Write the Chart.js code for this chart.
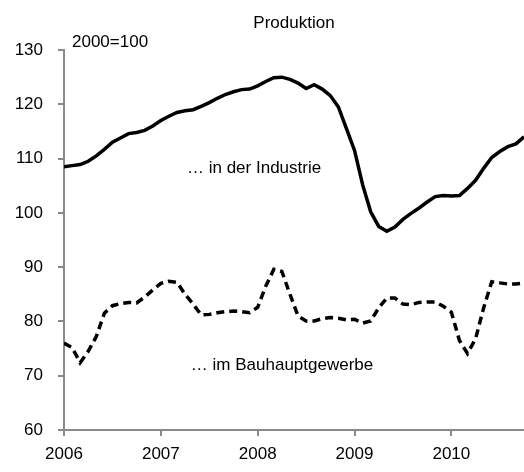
<!DOCTYPE html>
<html>
<head>
<meta charset="utf-8">
<script src="https://cdn.jsdelivr.net/npm/chart.js@4"></script>
<style>
  body { margin: 0; background: #fff; }
  #wrap { width: 524px; height: 472px; }
</style>
</head>
<body>
<div id="wrap"><canvas id="myChart"></canvas></div>
<script>
// monthly values, Jan 2006 .. Oct 2010 (2000=100)
const firstYear = 2006;
const industrie = [
  108.5, 108.7, 108.9, 109.5, 110.5, 111.7, 113.0, 113.8, 114.6, 114.8, 115.2, 116.0,
  117.0, 117.8, 118.5, 118.8, 119.0, 119.6, 120.3, 121.1, 121.8, 122.3, 122.7, 122.8,
  123.4, 124.2, 124.9, 125.0, 124.6, 123.9, 122.9, 123.6, 122.8, 121.6, 119.5, 115.5,
  111.5, 105.2, 100.2, 97.5, 96.6, 97.4, 98.8, 99.9, 100.9, 102.0, 103.0, 103.2,
  103.1, 103.2, 104.5, 106.0, 108.2, 110.2, 111.3, 112.2, 112.7, 114.0
];
const bauhaupt = [
  76.0, 75.2, 72.4, 74.5, 77.2, 81.5, 82.9, 83.3, 83.5, 83.4, 84.5, 85.8,
  87.0, 87.4, 87.2, 85.0, 83.2, 81.2, 81.3, 81.6, 81.8, 81.9, 81.8, 81.6,
  82.6, 86.5, 89.6, 89.2, 85.0, 81.0, 80.1, 80.1, 80.5, 80.7, 80.6, 80.3,
  80.4, 79.7, 80.1, 82.5, 84.3, 84.3, 83.2, 83.1, 83.5, 83.6, 83.6, 82.8,
  81.7, 76.5, 74.1, 76.8, 82.5, 87.3, 87.1, 86.9, 86.9, 87.1
];
const yearTicks = [2006, 2007, 2008, 2009, 2010];
const valueTicks = [60, 70, 80, 90, 100, 110, 120, 130];

const font = { family: '"Liberation Sans", Arial, sans-serif', size: 17 };
const axisGrey = '#8a8a8a';

function toPoints(values) {
  return values.map((v, i) => ({ x: firstYear + i / 12, y: v }));
}

// free texts: title, unit note and the two series labels
const textPlugin = {
  id: 'texts',
  afterDraw(chart) {
    const c = chart.ctx;
    const xs = chart.scales.x, ys = chart.scales.y;
    c.save();
    c.fillStyle = '#000';
    c.font = '17px "Liberation Sans", Arial, sans-serif';
    c.textBaseline = 'alphabetic';
    c.textAlign = 'center';
    c.fillText('Produktion', 294, 28);
    c.textAlign = 'left';
    c.fillText('2000=100', 72, 47);
    c.fillText('\u2026 in der Industrie', xs.getPixelForValue(2007.27), ys.getPixelForValue(107.3));
    c.fillText('\u2026 im Bauhauptgewerbe', xs.getPixelForValue(2007.31), ys.getPixelForValue(71.0));
    c.restore();
  }
};

new Chart(document.getElementById('myChart'), {
  type: 'line',
  data: {
    datasets: [{
      label: '... in der Industrie',
      data: toPoints(industrie),
      borderColor: '#000',
      borderWidth: 3.5,
      pointRadius: 0,
      tension: 0
    },
    {
      label: '... im Bauhauptgewerbe',
      data: toPoints(bauhaupt),
      borderColor: '#000',
      borderWidth: 3.5,
      borderDash: [8, 5],
      pointRadius: 0,
      tension: 0
    }]
  },
  options: {
    responsive: true,
    maintainAspectRatio: false,
    animation: false,
    layout: { padding: { top: 50, right: 0, bottom: 0, left: 0 } },
    plugins: { legend: { display: false }, tooltip: { enabled: false } },
    scales: {
      x: {
        type: 'linear',
        min: firstYear,
        max: firstYear + (industrie.length - 1) / 12,
        afterBuildTicks: (s) => { s.ticks = yearTicks.map(v => ({ value: v })); },
        afterFit: (s) => { s.height = 42; },
        ticks: { font: font, color: '#000', padding: 8, callback: (v) => String(v) },
        grid: { drawOnChartArea: false, drawTicks: true, tickLength: 6, color: axisGrey, lineWidth: 2 },
        border: { display: true, color: axisGrey, width: 2 }
      },
      y: {
        min: 60,
        max: 130,
        afterBuildTicks: (s) => { s.ticks = valueTicks.map(v => ({ value: v })); },
        afterFit: (s) => { s.width = 64; },
        ticks: { font: font, color: '#000', padding: 15 },
        grid: { drawOnChartArea: false, drawTicks: true, tickLength: 6, color: axisGrey, lineWidth: 2 },
        border: { display: true, color: axisGrey, width: 2 }
      }
    }
  },
  plugins: [textPlugin]
});
</script>
</body>
</html>
